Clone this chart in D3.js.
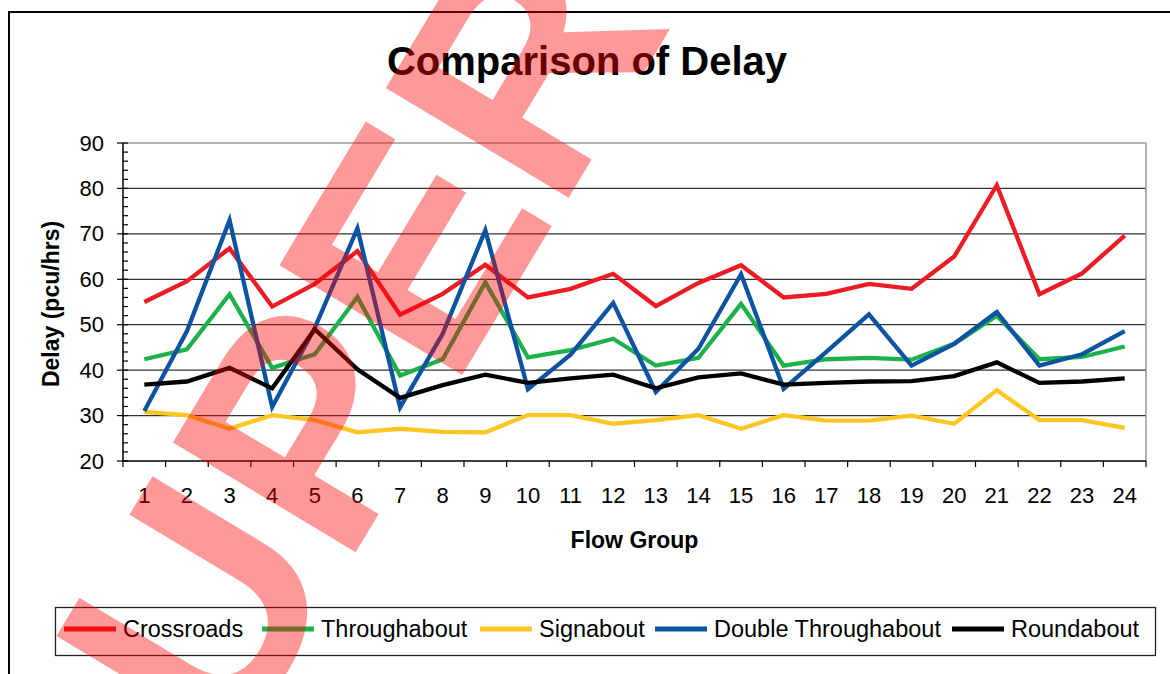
<!DOCTYPE html>
<html>
<head>
<meta charset="utf-8">
<script src="https://cdnjs.cloudflare.com/ajax/libs/d3/7.8.5/d3.min.js"></script>
<style>
  body { margin: 0; background: #fff; }
  svg { display: block; font-family: "Liberation Sans", Arial, sans-serif; }
</style>
</head>
<body>
<div id="canvas"></div>
<script>
var groups = [1, 2, 3, 4, 5, 6, 7, 8, 9, 10, 11, 12, 13, 14, 15, 16, 17, 18, 19, 20, 21, 22, 23, 24];

var crossroads = [55, 59.6, 66.8, 54, 59, 66.2, 52.2, 56.8, 63.2, 56, 57.9, 61.2, 54.1, 59.2, 63.1, 56, 56.8, 59, 57.9, 65, 80.7, 56.7, 61.3, 69.6];
var throughabout = [42.4, 44.6, 56.7, 40.5, 43.5, 56.1, 38.8, 42.4, 59.3, 42.8, 44.4, 46.9, 41, 42.7, 54.6, 41, 42.4, 42.7, 42.3, 45.8, 52, 42.4, 42.9, 45.2];
var signabout = [30.8, 30.1, 27.1, 30.1, 29, 26.3, 27.1, 26.4, 26.3, 30.1, 30.1, 28.2, 29, 30.1, 27.1, 30.1, 28.9, 28.9, 30, 28.2, 35.6, 29, 29, 27.3];
var doubleThroughabout = [31, 48.6, 73, 31.9, 49.3, 71.2, 31.8, 48, 70.8, 35.8, 43.4, 54.8, 35.2, 44.7, 61.1, 35.9, 44, 52.3, 41, 45.8, 52.8, 41, 43.5, 48.6];
var roundabout = [36.8, 37.5, 40.5, 36, 49, 40.2, 33.9, 36.7, 39, 37.2, 38.2, 39, 36, 38.4, 39.3, 36.8, 37.2, 37.5, 37.6, 38.7, 41.7, 37.2, 37.5, 38.2];

var seriesNames = ['Crossroads', 'Throughabout', 'Signabout', 'Double Throughabout', 'Roundabout'];
var yTicks = [20, 30, 40, 50, 60, 70, 80, 90];

var series = [
    {name: seriesNames[0], values: crossroads, color: '#ed1c24'},
    {name: seriesNames[1], values: throughabout, color: '#1db14b'},
    {name: seriesNames[2], values: signabout, color: '#fdc623'},
    {name: seriesNames[3], values: doubleThroughabout, color: '#0c54a2'},
    {name: seriesNames[4], values: roundabout, color: '#000000'}
];

var W = 1170, H = 674;
var m = {t: 143, r: 24, b: 213, l: 123},
    w = W - m.l - m.r,
    h = H - m.t - m.b;

var svg = d3.select('#canvas')
    .append('svg')
    .attr('width', W)
    .attr('height', H);

// outer chart border (cropped on right / bottom)
svg.append('path')
    .attr('d', 'M9,' + H + 'V12H' + W)
    .attr('fill', 'none')
    .attr('stroke', '#000')
    .attr('stroke-width', 2);

svg.append('text')
    .attr('x', 587).attr('y', 75)
    .attr('text-anchor', 'middle')
    .style('font-size', '40px').style('font-weight', 'bold')
    .text('Comparison of Delay');

var plot = svg.append('g')
    .attr('transform', 'translate(' + m.l + ',' + m.t + ')');

var scaleX = d3.scaleBand().domain(groups).range([0, w]);
var scaleY = d3.scaleLinear().domain([20, 90]).range([h, 0]);

// gridlines
plot.selectAll('.grid')
    .data(yTicks.filter(function(d){ return d > 20 && d < 90; }))
    .enter().append('line')
    .attr('x1', 0).attr('x2', w)
    .attr('y1', function(d){ return scaleY(d); })
    .attr('y2', function(d){ return scaleY(d); })
    .attr('stroke', '#333').attr('stroke-width', 1.2);

// plot area border top/right
plot.append('path')
    .attr('d', 'M0,0H' + w + 'V' + h)
    .attr('fill', 'none')
    .attr('stroke', '#999').attr('stroke-width', 1.5);

// y axis: major ticks outside, minor inside
var yAxis = plot.append('g');
yAxis.append('line')
    .attr('x1', 0).attr('x2', 0).attr('y1', 0).attr('y2', h)
    .attr('stroke', '#000').attr('stroke-width', 1.5);
yAxis.selectAll('.major')
    .data(yTicks).enter().append('line')
    .attr('x1', -6).attr('x2', 0)
    .attr('y1', function(d){ return scaleY(d); })
    .attr('y2', function(d){ return scaleY(d); })
    .attr('stroke', '#000').attr('stroke-width', 1.2);
yAxis.selectAll('.minor')
    .data(scaleY.ticks(35)).enter().append('line')
    .attr('x1', 0).attr('x2', 5)
    .attr('y1', function(d){ return scaleY(d); })
    .attr('y2', function(d){ return scaleY(d); })
    .attr('stroke', '#000').attr('stroke-width', 1.2);
yAxis.selectAll('.lbl')
    .data(yTicks).enter().append('text')
    .attr('x', -19)
    .attr('y', function(d){ return scaleY(d) + 7.5; })
    .attr('text-anchor', 'end')
    .style('font-size', '22px')
    .text(function(d){ return d; });

// x axis
var xAxis = plot.append('g').attr('transform', 'translate(0,' + h + ')');
xAxis.append('line')
    .attr('x1', 0).attr('x2', w)
    .attr('stroke', '#000').attr('stroke-width', 1.5);
xAxis.selectAll('.tick')
    .data(groups.concat(['end'])).enter().append('line')
    .attr('x1', function(d, i){ return i * scaleX.step(); })
    .attr('x2', function(d, i){ return i * scaleX.step(); })
    .attr('y1', 0).attr('y2', 6)
    .attr('stroke', '#000').attr('stroke-width', 1.2);
xAxis.selectAll('.lbl')
    .data(groups).enter().append('text')
    .attr('x', function(d){ return scaleX(d) + scaleX.bandwidth() / 2; })
    .attr('y', 42)
    .attr('text-anchor', 'middle')
    .style('font-size', '22px')
    .text(function(d){ return d; });

svg.append('text')
    .attr('x', m.l + w / 2).attr('y', 548)
    .attr('text-anchor', 'middle')
    .style('font-size', '23px').style('font-weight', 'bold')
    .text('Flow Group');

svg.append('text')
    .attr('transform', 'translate(59,304) rotate(-90)')
    .attr('text-anchor', 'middle')
    .style('font-size', '23px').style('font-weight', 'bold')
    .text('Delay (pcu/hrs)');

// lines
var line = d3.line()
    .x(function(d, i){ return scaleX(groups[i]) + scaleX.bandwidth() / 2; })
    .y(function(d){ return scaleY(d); });

plot.selectAll('.series')
    .data(series).enter().append('path')
    .attr('class', 'series')
    .attr('d', function(d){ return line(d.values); })
    .attr('fill', 'none')
    .attr('stroke', function(d){ return d.color; })
    .attr('stroke-width', 4.3)
    .attr('stroke-linejoin', 'miter');

// legend
var legend = svg.append('g');
legend.append('rect')
    .attr('x', 55.5).attr('y', 607.5)
    .attr('width', 1100).attr('height', 48)
    .attr('fill', 'none')
    .attr('stroke', '#222').attr('stroke-width', 1.3);

var legendX = [64, 262, 480, 655, 952];
var item = legend.selectAll('.item')
    .data(series).enter().append('g')
    .attr('transform', function(d, i){ return 'translate(' + legendX[i] + ',629)'; });
item.append('line')
    .attr('x1', 0).attr('x2', 52)
    .attr('stroke', function(d){ return d.color; })
    .attr('stroke-width', 5);
item.append('text')
    .attr('x', 59).attr('y', 8)
    .style('font-size', '23.5px')
    .text(function(d){ return d.name; });

// watermark on top, "P" placed at its baseline origin
var wm = svg.append('text')
    .attr('transform', 'translate(345,570) rotate(-59)')
    .style('font-size', '310px').style('font-weight', 'bold')
    .attr('fill', '#ff0000').attr('fill-opacity', 0.4)
    .text('SUPER');
wm.attr('x', -wm.node().getSubStringLength(0, 2));
</script>
</body>
</html>
